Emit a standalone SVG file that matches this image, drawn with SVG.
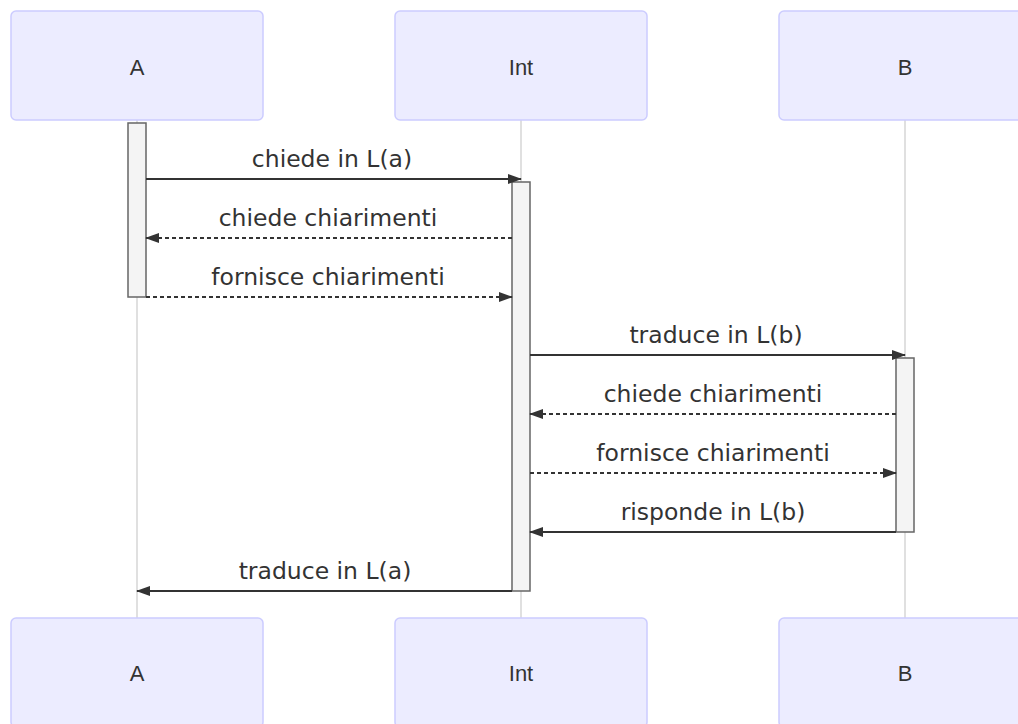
<svg xmlns="http://www.w3.org/2000/svg" width="1018" height="724" viewBox="0 0 1018 724">
<style>
.actor rect{fill:#ECECFF;stroke:#CCCCFF;stroke-width:1.5}
.actor text{font-family:"Liberation Sans",Arial,sans-serif;font-size:22px;fill:#333;text-anchor:middle;dominant-baseline:central}
.life{stroke:#d6d6d6;stroke-width:1.5}
.act{fill:#F4F4F4;stroke:#666;stroke-width:1.5}
.msg{stroke:#333;stroke-width:2;fill:none;marker-end:url(#arrow)}
.dash{stroke-dasharray:4,3}
.lbl{font-family:"DejaVu Sans","Liberation Sans",sans-serif;font-size:23.5px;fill:#333;text-anchor:middle}
</style>
<defs>
<marker id="arrow" markerUnits="userSpaceOnUse" markerWidth="14" markerHeight="10" refX="13" refY="5" orient="auto">
<path d="M0,0 L14,5 L0,10 z" fill="#333"/>
</marker>
</defs>
<rect width="1018" height="724" fill="#fff"/>
<g id="lifelines">
<line class="life" x1="137" y1="120" x2="137" y2="618"/>
<line class="life" x1="521" y1="120" x2="521" y2="618"/>
<line class="life" x1="905" y1="120" x2="905" y2="618"/>
</g>
<g id="actor-A-top" class="actor"><rect x="11" y="11" width="252" height="109" rx="5"/><text x="137" y="67">A</text></g>
<g id="actor-Int-top" class="actor"><rect x="395" y="11" width="252" height="109" rx="5"/><text x="521" y="67">Int</text></g>
<g id="actor-B-top" class="actor"><rect x="779" y="11" width="252" height="109" rx="5"/><text x="905" y="67">B</text></g>
<g id="actor-A-bottom" class="actor"><rect x="11" y="618" width="252" height="109" rx="5"/><text x="137" y="673">A</text></g>
<g id="actor-Int-bottom" class="actor"><rect x="395" y="618" width="252" height="109" rx="5"/><text x="521" y="673">Int</text></g>
<g id="actor-B-bottom" class="actor"><rect x="779" y="618" width="252" height="109" rx="5"/><text x="905" y="673">B</text></g>
<g id="activations">
<rect class="act" x="128" y="123" width="18" height="174"/>
<rect class="act" x="512" y="182" width="18" height="409"/>
<rect class="act" x="896" y="358" width="18" height="174"/>
</g>
<g id="connectors">
<line class="msg" x1="146" y1="179" x2="521" y2="179"/>
<line class="msg dash" x1="512" y1="238" x2="146" y2="238"/>
<line class="msg dash" x1="146" y1="297" x2="512" y2="297"/>
<line class="msg" x1="530" y1="355" x2="905" y2="355"/>
<line class="msg dash" x1="896" y1="414" x2="530" y2="414"/>
<line class="msg dash" x1="530" y1="473" x2="896" y2="473"/>
<line class="msg" x1="896" y1="532" x2="530" y2="532"/>
<line class="msg" x1="512" y1="591" x2="137" y2="591"/>
<text class="lbl" x="332" y="167">chiede in L(a)</text>
<text class="lbl" x="328" y="226">chiede chiarimenti</text>
<text class="lbl" x="328" y="285">fornisce chiarimenti</text>
<text class="lbl" x="716" y="343">traduce in L(b)</text>
<text class="lbl" x="713" y="402">chiede chiarimenti</text>
<text class="lbl" x="713" y="461">fornisce chiarimenti</text>
<text class="lbl" x="713" y="520">risponde in L(b)</text>
<text class="lbl" x="325" y="579">traduce in L(a)</text>
</g>
</svg>
